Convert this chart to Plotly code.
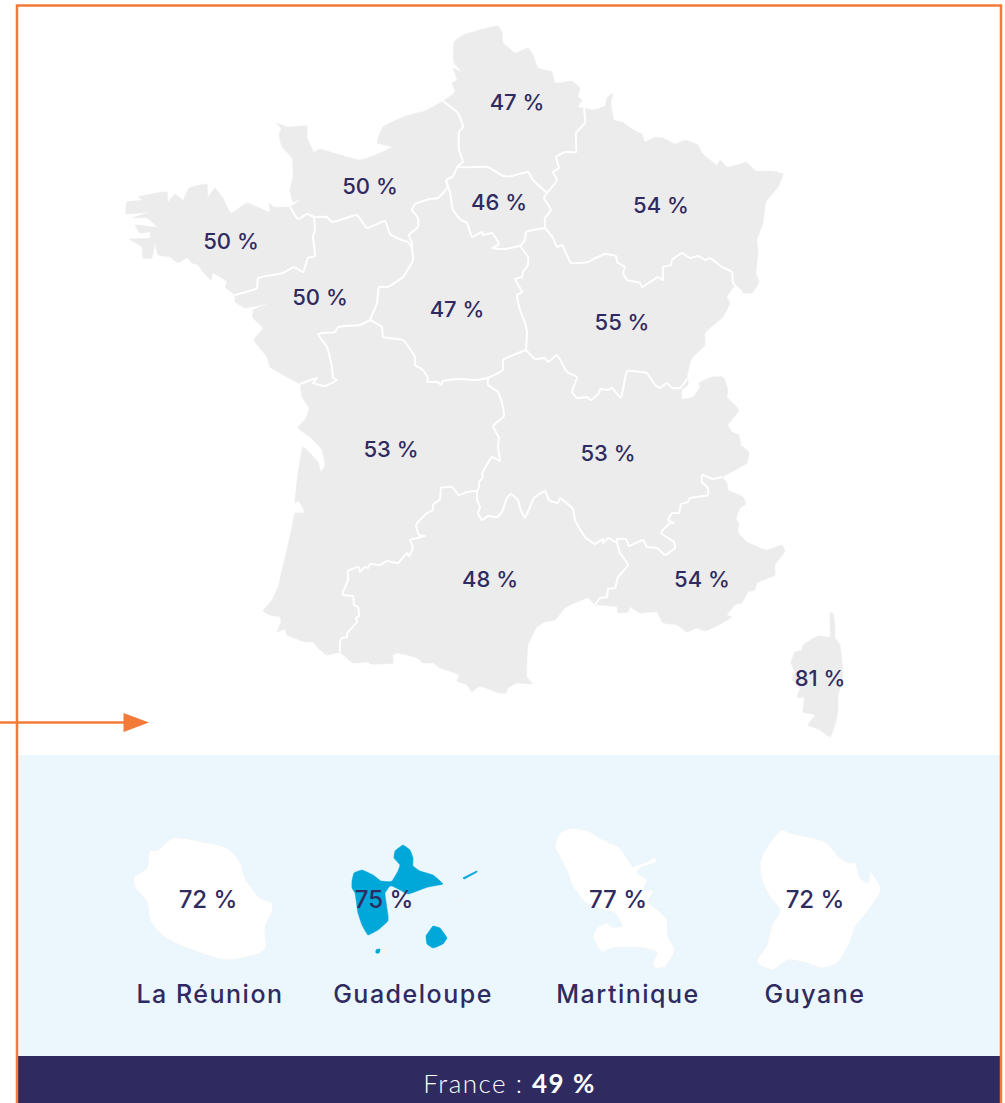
import plotly.graph_objects as go

# ---- data: survey share per region ----
region_names = ["Hauts-de-France", "Normandie", "Île-de-France", "Grand Est", "Bretagne", "Pays de la Loire",
                "Centre-Val de Loire", "Bourgogne-Franche-Comté", "Nouvelle-Aquitaine", "Auvergne-Rhône-Alpes",
                "Occitanie", "Provence-Alpes-Côte d'Azur", "Corse"]
region_values = [47, 50, 46, 54, 50, 50, 47, 55, 53, 53, 48, 54, 81]
region_label_x = [517, 370, 499, 661, 231, 320, 457, 622, 391, 608, 490, 702, 820]
region_label_y = [101, 185, 201, 204, 240, 296, 308, 321, 448, 452, 578, 578, 677]

overseas_names = ["La Réunion", "Guadeloupe", "Martinique", "Guyane"]
overseas_values = [72, 75, 77, 72]
overseas_value_x = [208, 384, 618, 815]
overseas_name_x = [210, 413, 628, 815]

france_label = "France : "
france_value = 49

# ---- map outlines (traced shared boundaries) ----
coast_bre = [(235,295),(225,287),(227,282),(213,273),(211,280),(203,272),(198,265),(192,263),(187,258),(178,263),(170,257),(158,255),(155,243),(152,258),(143,258),(142,247),(129,239),(150,238),(150,232),(140,233),(135,225),(157,227),(147,218),(133,218),(148,212),(126,214),(127,202),(143,200),(138,197),(167,192),(168,202),(175,194),(183,200),(189,188),(207,184),(208,197),(215,188),(223,198),(231,213),(247,203),(270,212),(269,203),(274,207),(290,207)]
bre_nor = [(290,207),(298,219),(307,214),(314,217)]
bre_pdl = [(314,217),(315,230),(313,237),(315,256),(308,258),(303,272),(294,267),(283,273),(258,278),(257,288),(235,295)]
coast_nor = [(290,207),(302,199),(293,202),(290,190),(293,177),(292,158),(282,147),(279,135),(281,128),(276,123),(288,127),(307,126),(307,137),(314,152),(320,149),(337,154),(360,160),(373,156),(392,147),(377,143),(383,127),(403,117),(427,110),(443,101)]
nor_hdf = [(443,101),(458,113),(463,127),(459,132),(459,150),(463,162),(460,164)]
nor_idf = [(460,164),(457,167),(453,176),(446,180)]
nor_cvl = [(446,180),(447,188),(438,198),(430,199),(415,204),(412,210),(418,218),(418,227),(409,235),(412,243),(412,248)]
nor_pdl = [(314,217),(327,217),(332,222),(337,221),(357,215),(367,228),(385,221),(390,234),(402,240),(408,242),(412,248)]
pdl_cvl = [(412,248),(413,260),(403,277),(388,287),(379,287),(377,303),(370,320)]
pdl_na = [(370,320),(360,325),(338,327),(335,332),(318,334),(327,347),(332,367),(333,378),(337,380),(325,386),(313,383),(317,378),(300,384)]
coast_pdl = [(235,295),(235,302),(245,308),(270,303),(253,310),(253,318),(263,328),(254,340),(267,357),(270,367),(287,377),(300,384)]
coast_hdf = [(443,101),(455,92),(452,83),(457,80),(453,68),(462,72),(454,63),(454,42),(463,35),(498,26),(502,32),(503,43),(508,47),(515,53),(528,48),(533,55),(538,68),(552,72),(555,83),(572,81),(580,88),(578,97),(582,100),(578,107),(584,108)]
hdf_ge = [(584,108),(585,123),(576,133),(576,152),(565,152),(556,157),(559,168),(553,172),(557,180),(547,193)]
hdf_idf = [(460,164),(459,167),(477,167),(488,167),(503,176),(512,176),(528,172),(533,180),(547,193)]
idf_ge = [(547,193),(544,198),(551,210),(545,218),(545,228)]
idf_bfc = [(545,228),(526,232),(525,240),(520,246)]
idf_cvl = [(520,246),(505,249),(492,248),(499,244),(492,233),(483,235),(482,232),(472,237),(467,223),(461,220),(453,210),(450,192),(446,180)]
ge_bfc = [(545,228),(553,238),(557,247),(562,245),(571,263),(588,262),(592,260),(605,254),(616,256),(617,262),(625,267),(623,273),(627,280),(640,283),(642,287),(650,282),(658,277),(663,280),(663,267),(671,265),(672,260),(682,253),(690,258),(698,256),(705,260),(710,258),(722,267),(732,272),(733,283),(742,292)]
coast_ge = [(584,108),(593,110),(605,106),(607,98),(613,93),(611,102),(614,120),(622,122),(637,132),(642,134),(645,142),(655,137),(663,138),(675,144),(685,140),(698,145),(702,153),(717,165),(720,160),(727,167),(737,165),(746,162),(756,171),(773,171),(783,174),(778,187),(766,202),(763,223),(757,240),(758,253),(756,273),(759,282),(752,293),(743,293),(742,292)]
coast_bfc = [(742,292),(735,286),(727,297),(730,303),(723,317),(705,333),(705,345),(692,358),(687,377),(688,378)]
bfc_ara = [(688,378),(680,388),(672,388),(667,383),(660,388),(655,385),(647,373),(640,372),(627,371),(621,398),(612,388),(608,390),(600,389),(599,393),(591,400),(587,397),(577,398),(572,392),(577,377),(567,372),(557,355),(548,362),(545,358),(535,359),(526,350)]
cvl_bfc = [(520,246),(528,257),(528,265),(523,272),(522,277),(515,279),(522,292),(517,295),(520,310),(525,323),(527,332),(526,350)]
cvl_ara = [(526,350),(503,360),(503,370),(488,378)]
cvl_na = [(370,320),(382,327),(383,337),(403,340),(415,357),(415,365),(423,370),(428,378),(427,382),(438,382),(441,385),(443,381),(458,379),(477,380),(488,378)]
na_ara = [(488,378),(488,385),(498,392),(502,403),(504,416),(493,426),(499,438),(498,447),(500,461),(492,457),(482,474),(483,477),(479,482),(479,487),(477,491)]
coast_na = [(300,384),(302,397),(309,408),(306,418),(298,428),(310,437),(322,450),(325,465),(321,472),(318,462),(303,447),(295,503),(298,501),(303,508),(304,513),(295,513),(292,527),(278,587),(272,600),(263,611),(270,615),(280,617),(281,622),(277,632),(285,629),(287,635),(305,642),(313,642),(318,648),(327,655),(340,652)]
na_occ = [(340,652),(340,642),(342,638),(347,637),(347,633),(357,622),(356,618),(359,616),(358,607),(354,605),(353,596),(343,595),(343,592),(348,580),(348,571),(359,567),(360,572),(365,567),(368,568),(370,564),(380,565),(387,561),(398,563),(407,553),(409,556),(413,547),(410,540),(425,536),(419,535),(416,525),(427,513),(433,510),(433,505),(440,499),(441,488),(452,487),(459,495),(467,492),(477,491)]
occ_ara = [(477,491),(477,500),(480,507),(478,513),(482,520),(488,516),(497,517),(502,512),(507,498),(511,494),(518,500),(520,508),(525,518),(534,498),(545,491),(549,500),(558,503),(560,498),(573,509),(575,520),(585,537),(595,544),(603,539),(603,543),(608,538),(617,543)]
ara_paca = [(617,543),(617,539),(626,539),(629,546),(643,540),(647,547),(657,548),(665,555),(675,548),(674,542),(661,533),(670,523),(674,523),(668,520),(672,513),(679,513),(681,504),(688,502),(690,498),(708,495),(708,488),(702,482),(702,475),(713,479),(722,477)]
occ_paca = [(617,543),(620,553),(628,565),(618,577),(615,588),(608,589),(607,597),(600,598),(595,605)]
coast_ara = [(688,378),(688,385),(682,390),(682,399),(693,397),(700,387),(699,383),(712,377),(723,377),(728,390),(727,397),(739,410),(728,425),(732,432),(739,435),(741,445),(749,452),(747,463),(722,477)]
coast_paca = [(722,477),(727,483),(728,490),(743,497),(746,504),(740,508),(736,519),(739,523),(738,532),(747,542),(767,550),(782,545),(785,551),(775,565),(775,575),(757,583),(755,590),(748,592),(742,603),(735,605),(727,615),(732,617),(715,627),(705,631),(697,628),(687,632),(677,625),(663,623),(657,612),(640,613),(630,607),(628,612),(618,613),(617,607),(595,605)]
coast_occ = [(595,605),(588,598),(577,602),(565,608),(555,620),(545,622),(537,627),(528,645),(527,677),(533,684),(517,683),(508,688),(506,693),(499,693),(483,687),(478,687),(472,692),(467,685),(457,681),(459,675),(440,668),(433,663),(423,663),(417,658),(397,653),(393,655),(393,663),(370,664),(368,662),(353,663),(340,652)]
outline_corse = [(830,613),(833,613),(835,627),(835,638),(840,645),(843,677),(838,697),(838,710),(836,722),(830,737),(820,730),(808,725),(815,715),(803,712),(804,698),(797,697),(800,688),(792,680),(795,672),(791,663),(795,652),(802,650),(803,645),(818,636),(830,637)]

outline_reunion = [(134,877),(142,872),(147,868),(150,851),(158,850),(173,838),(203,842),(227,848),(240,862),(245,878),(260,898),(272,903),(272,912),(265,927),(266,948),(260,953),(230,960),(213,957),(180,945),(162,935),(150,920),(147,902),(135,887)]
outline_basse_terre = [(352,881),(354,873),(362,870),(373,875),(381,881),(389,882),(389,887),(385,893),(388,915),(388,921),(378,930),(368,935),(362,925),(358,913),(355,893),(352,888)]
outline_grande_terre = [(384,883),(392,881),(398,871),(400,865),(394,858),(395,851),(403,845),(410,850),(413,858),(413,866),(420,871),(433,875),(443,884),(428,887),(408,894),(400,890),(392,886),(384,887)]
outline_marie_galante = [(426,936),(430,930),(433,926),(440,928),(447,938),(443,944),(433,948),(427,944)]
outline_desirade = [(463,878),(477,871),(477,872),(464,879)]
outline_saintes = [(376,950),(380,949),(379,953),(376,953)]
outline_islets = [[(457,898),(462,898),(462,900),(457,900)], [(443,884),(451,886),(450,888)], [(384,869),(387,869),(386,872)], [(381,949),(389,946),(387,954),(383,955)]]
outline_martinique = [(555,847),(560,833),(573,828),(590,832),(603,840),(620,848),(633,867),(637,865),(647,862),(655,857),(657,862),(648,865),(640,868),(637,873),(647,880),(643,890),(653,891),(648,902),(660,912),(667,920),(668,937),(675,950),(665,967),(655,968),(653,963),(657,952),(643,948),(630,947),(612,948),(602,952),(593,937),(597,928),(607,923),(612,927),(622,926),(615,913),(605,910),(585,902),(572,885),(568,873),(560,857)]
outline_guyane = [(782,830),(790,833),(825,842),(840,858),(850,863),(855,862),(860,878),(868,883),(870,872),(878,882),(881,890),(867,912),(855,927),(850,942),(837,963),(822,968),(807,963),(788,960),(772,970),(757,962),(767,945),(772,925),(780,910),(770,897),(762,880),(760,863),(767,847)]

# ---- assembling regions from shared boundaries ----
def rev(s):
    return s[::-1]

regions = [
    coast_hdf + hdf_ge + rev(hdf_idf) + rev(nor_hdf),
    coast_nor + nor_hdf + nor_idf + nor_cvl + rev(nor_pdl) + rev(bre_nor),
    hdf_idf + idf_ge + idf_bfc + idf_cvl + rev(nor_idf),
    coast_ge + rev(ge_bfc) + rev(idf_ge) + rev(hdf_ge),
    coast_bre + bre_nor + bre_pdl,
    nor_pdl + pdl_cvl + pdl_na + rev(coast_pdl) + rev(bre_pdl),
    rev(nor_cvl) + rev(idf_cvl) + cvl_bfc + cvl_ara + rev(cvl_na) + rev(pdl_cvl),
    ge_bfc + coast_bfc + bfc_ara + rev(cvl_bfc) + rev(idf_bfc),
    cvl_na + na_ara + rev(na_occ) + rev(coast_na) + rev(pdl_na),
    rev(bfc_ara) + coast_ara + rev(ara_paca) + rev(occ_ara) + rev(na_ara) + rev(cvl_ara),
    na_occ + occ_ara + occ_paca + coast_occ,
    ara_paca + coast_paca + rev(occ_paca),
    outline_corse,
]
inner_borders = [bre_nor, bre_pdl, nor_hdf, nor_idf, nor_cvl, nor_pdl, pdl_cvl, pdl_na, hdf_ge, hdf_idf, idf_ge,
                 idf_bfc, idf_cvl, ge_bfc, bfc_ara, cvl_bfc, cvl_ara, cvl_na, na_ara, na_occ, occ_ara, ara_paca, occ_paca]

NAVY = "#2f2a5f"
ORANGE = "#f47a3a"
GREY = "#ececec"
BLUE = "#00a7d9"
PALE = "#ebf7fc"
FONT = "Inter, sans-serif"

fig = go.Figure()

def poly(points, fill, name="", line=None, width=0, smooth=0.45):
    fig.add_trace(go.Scatter(
        x=[p[0] for p in points] + [points[0][0]],
        y=[p[1] for p in points] + [points[0][1]],
        mode="lines", fill="toself", fillcolor=fill, name=name,
        line=dict(color=line or fill, width=width, shape="spline", smoothing=smooth), hoverinfo="skip"))

for nm, pts in zip(region_names, regions):
    poly(pts, GREY, nm, GREY, 0.5, 0.35)

bx, by = [], []
for seg in inner_borders:
    bx += [p[0] for p in seg] + [None]
    by += [p[1] for p in seg] + [None]
fig.add_trace(go.Scatter(x=bx, y=by, mode="lines", connectgaps=False,
                         line=dict(color="white", width=2, shape="spline", smoothing=0.35), hoverinfo="skip"))

poly(outline_reunion, "#ffffff", "La Réunion", "#f3f6f8", 1, 0.7)
poly(outline_martinique, "#ffffff", "Martinique", "#f3f6f8", 1, 0.5)
poly(outline_guyane, "#ffffff", "Guyane", "#f3f6f8", 1, 0.7)
for isl in outline_islets:
    poly(isl, "#f1f3f5", "Guadeloupe")
for isl in (outline_basse_terre, outline_grande_terre, outline_marie_galante):
    poly(isl, BLUE, "Guadeloupe", BLUE, 0.5, 0.3)
for isl in (outline_desirade, outline_saintes):
    poly(isl, BLUE, "Guadeloupe", BLUE, 1, 0)

# value labels
fig.add_trace(go.Scatter(x=region_label_x, y=region_label_y, mode="text",
                         text=[f"{v} %" for v in region_values], textposition="middle center",
                         textfont=dict(family=FONT, size=22, color=NAVY, weight=500), hoverinfo="skip"))
fig.add_trace(go.Scatter(x=overseas_value_x, y=[899] * len(overseas_values), mode="text",
                         text=[f"{v} %" for v in overseas_values], textposition="middle center",
                         textfont=dict(family=FONT, size=24, color=NAVY, weight=500), hoverinfo="skip"))
fig.add_trace(go.Scatter(x=overseas_name_x, y=[994] * len(overseas_names), mode="text", text=overseas_names,
                         textposition="middle center",
                         textfont=dict(family=FONT, size=25, color=NAVY, weight=500), hoverinfo="skip"))

shapes = [
    dict(type="rect", x0=18, x1=1000, y0=755, y1=1056, fillcolor=PALE, line_width=0, layer="below"),
    dict(type="rect", x0=18, x1=1000, y0=1056, y1=1103, fillcolor=NAVY, line_width=0, layer="below"),
    dict(type="path", path="M 17 1110 L 17 5.5 L 1001 5.5 L 1001 1110", line=dict(color=ORANGE, width=2.5), layer="above"),
    dict(type="line", x0=0, x1=126, y0=722.5, y1=722.5, line=dict(color=ORANGE, width=2.5), layer="above"),
    dict(type="path", path="M 123.5 713 L 149 722.5 L 123.5 732 Z", fillcolor=ORANGE, line_width=0, layer="above"),
]

fig.update_layout(
    width=1005, height=1103, margin=dict(l=0, r=0, t=0, b=0), showlegend=False,
    plot_bgcolor="white", paper_bgcolor="white", shapes=shapes,
    xaxis=dict(range=[0, 1005], visible=False, fixedrange=True),
    yaxis=dict(range=[1103, 0], visible=False, fixedrange=True),
    annotations=[dict(x=509, y=1083, xref="x", yref="y", showarrow=False,
                      text=f'<span style="font-weight:300">{france_label}</span><b>{france_value} %</b>',
                      font=dict(family="Lato, sans-serif", size=26, color="white"))],
)

post = """
document.body.style.margin='0';document.body.style.overflow='hidden';
document.querySelectorAll('.annotation-text').forEach(function(t){t.style.letterSpacing='1.5px';});
document.querySelectorAll('.textpoint text').forEach(function(t){
  if(!/%/.test(t.textContent)){t.style.letterSpacing='1.5px';}
  t.setAttribute('transform','translate(0,3)');
});
"""
fig.write_html("out.html", config=dict(displayModeBar=False), post_script=post)
